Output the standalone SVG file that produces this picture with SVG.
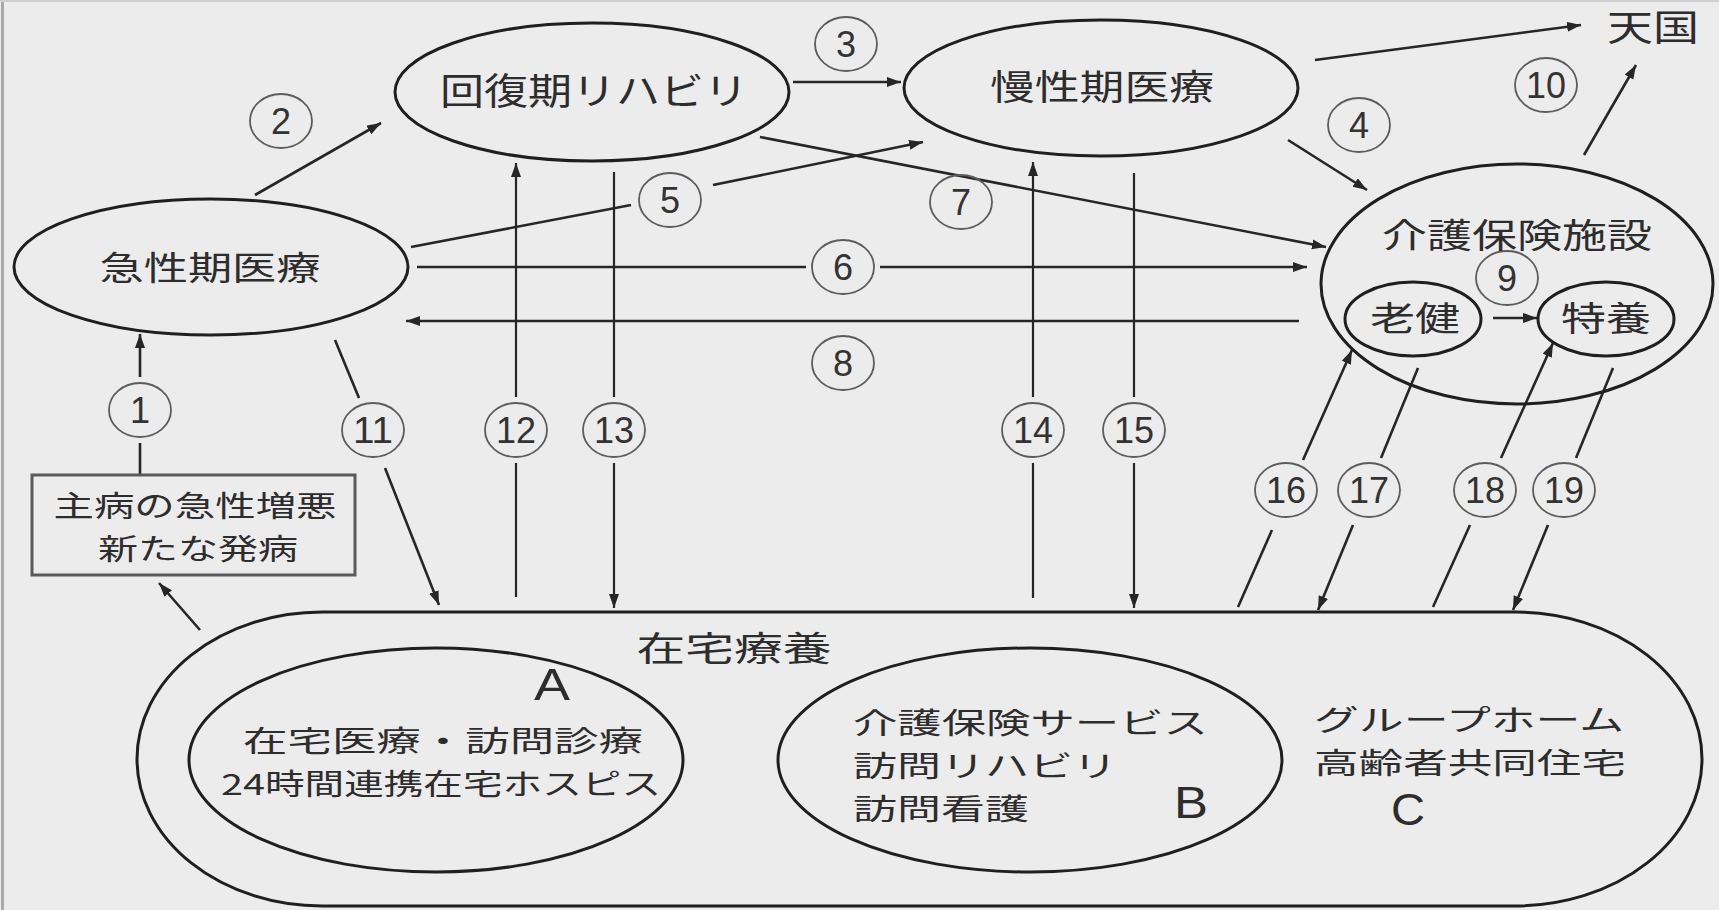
<svg xmlns="http://www.w3.org/2000/svg" width="1719" height="910" viewBox="0 0 1719 910">
<defs>
<style>
.node{fill:none;stroke:#1f1f1f;stroke-width:3}
.box{fill:none;stroke:#5a5a5a;stroke-width:3}
.conn line{stroke:#262626;stroke-width:2.6;fill:none}
.conn line.thin{stroke-width:2.2}
.lbl ellipse{fill:none;stroke:#5c5c5c;stroke-width:1.8}
.num{font-family:"Liberation Sans",Arial,sans-serif;font-size:36px;fill:#333;text-anchor:middle}
.jp{font-family:"Noto Sans CJK JP","Noto Sans CJK SC",sans-serif;fill:#2d2d2d;text-anchor:middle}
.jl{font-family:"Noto Sans CJK JP","Noto Sans CJK SC",sans-serif;fill:#2d2d2d;text-anchor:start}
.lat{font-family:"Liberation Sans",Arial,sans-serif;fill:#2d2d2d;text-anchor:middle}
</style>
<marker id="ah" markerUnits="userSpaceOnUse" markerWidth="16" markerHeight="12" refX="14" refY="5" orient="auto">
<path d="M0,0 L14,5 L0,10 z" fill="#262626"/>
</marker>
</defs>
<rect x="0" y="0" width="1719" height="910" fill="#ececec"/>
<line x1="2.5" y1="0" x2="2.5" y2="910" stroke="#a9a9a9" stroke-width="3"/>
<line x1="0" y1="1" x2="1719" y2="1" stroke="#cfcfcf" stroke-width="2"/>

<g id="conns" class="conn">
<line x1="140" y1="475" x2="140" y2="443"/>
<line x1="140" y1="377" x2="140" y2="334" marker-end="url(#ah)"/>
<line x1="255" y1="195" x2="381" y2="123" marker-end="url(#ah)"/>
<line x1="793" y1="82" x2="901" y2="82" marker-end="url(#ah)"/>
<line x1="1288" y1="140" x2="1367" y2="190" marker-end="url(#ah)"/>
<line x1="411" y1="247" x2="631" y2="205"/>
<line x1="713" y1="185" x2="923" y2="142" marker-end="url(#ah)"/>
<line x1="417" y1="267" x2="806" y2="267"/>
<line x1="880" y1="267" x2="1307" y2="267" marker-end="url(#ah)"/>
<line x1="760" y1="137" x2="1326" y2="247" marker-end="url(#ah)"/>
<line x1="1299" y1="321" x2="406" y2="321" marker-end="url(#ah)"/>
<line x1="1493" y1="318" x2="1537" y2="318" marker-end="url(#ah)"/>
<line x1="1584" y1="155" x2="1636" y2="65" marker-end="url(#ah)"/>
<line x1="1315" y1="60" x2="1581" y2="25" marker-end="url(#ah)"/>
<line x1="335" y1="340" x2="359" y2="398"/>
<line x1="385" y1="468" x2="439" y2="605" marker-end="url(#ah)"/>
<line class="thin" x1="516" y1="597" x2="516" y2="463"/>
<line class="thin" x1="516" y1="397" x2="516" y2="163" marker-end="url(#ah)"/>
<line class="thin" x1="614" y1="172" x2="614" y2="397"/>
<line class="thin" x1="614" y1="463" x2="614" y2="608" marker-end="url(#ah)"/>
<line class="thin" x1="1033" y1="598" x2="1033" y2="463"/>
<line class="thin" x1="1033" y1="397" x2="1033" y2="162" marker-end="url(#ah)"/>
<line class="thin" x1="1134" y1="173" x2="1134" y2="397"/>
<line class="thin" x1="1134" y1="463" x2="1134" y2="608" marker-end="url(#ah)"/>
<line x1="1238" y1="607" x2="1272" y2="530"/>
<line x1="1303" y1="460" x2="1352" y2="350" marker-end="url(#ah)"/>
<line x1="1418" y1="368" x2="1381" y2="458"/>
<line x1="1353" y1="525" x2="1318" y2="610" marker-end="url(#ah)"/>
<line x1="1433" y1="607" x2="1470" y2="525"/>
<line x1="1501" y1="458" x2="1553" y2="343" marker-end="url(#ah)"/>
<line x1="1613" y1="368" x2="1576" y2="458"/>
<line x1="1548" y1="525" x2="1513" y2="610" marker-end="url(#ah)"/>
<line x1="200" y1="630" x2="159" y2="583" marker-end="url(#ah)"/>
</g>

<g id="labels" class="lbl">
<g id="l1"><ellipse cx="140" cy="410" rx="31" ry="27"/><text class="num" x="140" y="423">1</text></g>
<g id="l2"><ellipse cx="281" cy="121" rx="31" ry="27"/><text class="num" x="281" y="134">2</text></g>
<g id="l3"><ellipse cx="846" cy="44" rx="31" ry="27"/><text class="num" x="846" y="57">3</text></g>
<g id="l4"><ellipse cx="1359" cy="125" rx="31" ry="27"/><text class="num" x="1359" y="138">4</text></g>
<g id="l5"><ellipse cx="670" cy="200" rx="31" ry="27"/><text class="num" x="670" y="213">5</text></g>
<g id="l6"><ellipse cx="843" cy="267" rx="31" ry="27"/><text class="num" x="843" y="280">6</text></g>
<g id="l7"><ellipse cx="961" cy="202" rx="31" ry="27"/><text class="num" x="961" y="215">7</text></g>
<g id="l8"><ellipse cx="843" cy="363" rx="31" ry="27"/><text class="num" x="843" y="376">8</text></g>
<g id="l9"><ellipse cx="1507" cy="278" rx="31" ry="27"/><text class="num" x="1507" y="291">9</text></g>
<g id="l10"><ellipse cx="1546" cy="85" rx="31" ry="27"/><text class="num" x="1546" y="98" textLength="40" lengthAdjust="spacingAndGlyphs">10</text></g>
<g id="l11"><ellipse cx="373" cy="430" rx="31" ry="27"/><text class="num" x="373" y="443" textLength="40" lengthAdjust="spacingAndGlyphs">11</text></g>
<g id="l12"><ellipse cx="516" cy="430" rx="31" ry="27"/><text class="num" x="516" y="443" textLength="40" lengthAdjust="spacingAndGlyphs">12</text></g>
<g id="l13"><ellipse cx="614" cy="430" rx="31" ry="27"/><text class="num" x="614" y="443" textLength="40" lengthAdjust="spacingAndGlyphs">13</text></g>
<g id="l14"><ellipse cx="1033" cy="430" rx="31" ry="27"/><text class="num" x="1033" y="443" textLength="40" lengthAdjust="spacingAndGlyphs">14</text></g>
<g id="l15"><ellipse cx="1134" cy="430" rx="31" ry="27"/><text class="num" x="1134" y="443" textLength="40" lengthAdjust="spacingAndGlyphs">15</text></g>
<g id="l16"><ellipse cx="1286" cy="490" rx="31" ry="27"/><text class="num" x="1286" y="503" textLength="40" lengthAdjust="spacingAndGlyphs">16</text></g>
<g id="l17"><ellipse cx="1369" cy="490" rx="31" ry="27"/><text class="num" x="1369" y="503" textLength="40" lengthAdjust="spacingAndGlyphs">17</text></g>
<g id="l18"><ellipse cx="1485" cy="490" rx="31" ry="27"/><text class="num" x="1485" y="503" textLength="40" lengthAdjust="spacingAndGlyphs">18</text></g>
<g id="l19"><ellipse cx="1564" cy="490" rx="31" ry="27"/><text class="num" x="1564" y="503" textLength="40" lengthAdjust="spacingAndGlyphs">19</text></g>
</g>

<g id="acute">
<ellipse class="node" cx="211" cy="267" rx="197" ry="68"/>
<text class="jp" x="210" y="280" font-size="33" textLength="221" lengthAdjust="spacingAndGlyphs">急性期医療</text>
</g>
<g id="rehab">
<ellipse class="node" cx="592" cy="92" rx="197" ry="69"/>
<text class="jp" x="594" y="105" font-size="37" textLength="308" lengthAdjust="spacingAndGlyphs">回復期リハビリ</text>
</g>
<g id="chronic">
<ellipse class="node" cx="1101" cy="88" rx="197" ry="68"/>
<text class="jp" x="1102" y="100" font-size="35" textLength="224" lengthAdjust="spacingAndGlyphs">慢性期医療</text>
</g>
<g id="heaven">
<text class="jp" x="1653" y="41" font-size="36" textLength="92" lengthAdjust="spacingAndGlyphs">天国</text>
</g>
<g id="facility">
<ellipse class="node" cx="1517" cy="284" rx="196" ry="120"/>
<text class="jp" x="1517" y="248" font-size="34" textLength="270" lengthAdjust="spacingAndGlyphs">介護保険施設</text>
</g>
<g id="roken">
<ellipse class="node" cx="1413" cy="319" rx="68" ry="37"/>
<text class="jp" x="1415" y="331" font-size="34" textLength="90" lengthAdjust="spacingAndGlyphs">老健</text>
</g>
<g id="tokuyo">
<ellipse class="node" cx="1606" cy="319" rx="68" ry="37"/>
<text class="jp" x="1606" y="331" font-size="34" textLength="90" lengthAdjust="spacingAndGlyphs">特養</text>
</g>
<g id="onset">
<rect class="box" x="32" y="475" width="323" height="100"/>
<text class="jp" x="195" y="517" font-size="29" textLength="283" lengthAdjust="spacingAndGlyphs">主病の急性増悪</text>
<text class="jp" x="198" y="560" font-size="29" textLength="200" lengthAdjust="spacingAndGlyphs">新たな発病</text>
</g>
<g id="home">
<path class="node" d="M322,612 H1515 A187 147 0 0 1 1515,906 H322 A185 147 0 0 1 322,612 Z"/>
<text class="jp" x="734" y="661" font-size="34" textLength="195" lengthAdjust="spacingAndGlyphs">在宅療養</text>
</g>
<g id="homeA">
<ellipse class="node" cx="436" cy="760" rx="247" ry="112"/>
<text class="lat" x="552" y="700" font-size="44" textLength="36" lengthAdjust="spacingAndGlyphs">A</text>
<text class="jp" x="443" y="752" font-size="29" textLength="400" lengthAdjust="spacingAndGlyphs">在宅医療・訪問診療</text>
<text class="jp" x="441" y="795" font-size="29" textLength="440" lengthAdjust="spacingAndGlyphs">24時間連携在宅ホスピス</text>
</g>
<g id="homeB">
<ellipse class="node" cx="1030" cy="760" rx="252" ry="112"/>
<text class="jl" x="853" y="734" font-size="29" textLength="355" lengthAdjust="spacingAndGlyphs">介護保険サービス</text>
<text class="jl" x="853" y="777" font-size="29" textLength="264" lengthAdjust="spacingAndGlyphs">訪問リハビリ</text>
<text class="jl" x="853" y="820" font-size="29" textLength="176" lengthAdjust="spacingAndGlyphs">訪問看護</text>
<text class="lat" x="1191" y="818" font-size="45" textLength="34" lengthAdjust="spacingAndGlyphs">B</text>
</g>
<g id="homeC">
<text class="jp" x="1469" y="731" font-size="29" textLength="310" lengthAdjust="spacingAndGlyphs">グループホーム</text>
<text class="jp" x="1470" y="774" font-size="29" textLength="312" lengthAdjust="spacingAndGlyphs">高齢者共同住宅</text>
<text class="lat" x="1408" y="825" font-size="45" textLength="34" lengthAdjust="spacingAndGlyphs">C</text>
</g>
</svg>
